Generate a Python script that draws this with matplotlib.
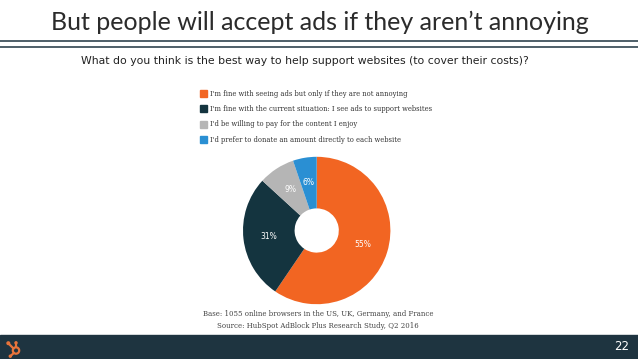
import numpy as np
import matplotlib.pyplot as plt
from matplotlib.patches import Rectangle, Circle

# slice shares as drawn, and the labels printed on them
answers = ["I'm fine with seeing ads but only if they are not annoying",
           "I'm fine with the current situation: I see ads to support websites",
           "I'd be willing to pay for the content I enjoy",
           "I'd prefer to donate an amount directly to each website"]
shares = [59.5, 27.3, 8.0, 5.2]
pct_labels = ['55%', '31%', '9%', '6%']
colors = ['#f26522', '#14343f', '#b5b5b5', '#2a8fd3']

W, H = 638, 359
fig = plt.figure(figsize=(W / 100, H / 100), dpi=100)
fig.patch.set_facecolor('white')

def fx(px):
    return px / W

def fy(py):
    return 1 - py / H

# title and rules
fig.text(fx(320), fy(22), "But people will accept ads if they aren\u2019t annoying",
         ha='center', va='center', fontsize=18, family='Lato', color='#2b2b2b')
for yy in (41, 46.5):
    fig.add_artist(plt.Line2D([0, 1], [fy(yy), fy(yy)], color='#1e3440', lw=1.1))

fig.text(fx(305), fy(61), "What do you think is the best way to help support websites (to cover their costs)?",
         ha='center', va='center', fontsize=7.8, family='DejaVu Sans', color='#222222')

# legend
for i, (lab, c) in enumerate(zip(answers, colors)):
    y = 93.5 + i * 15.5
    fig.add_artist(Rectangle((fx(200), fy(y + 3.5)), 7 / W, 7 / H, color=c,
                             transform=fig.transFigure))
    fig.text(fx(210), fy(y), lab, ha='left', va='center', fontsize=4.9,
             family='DejaVu Serif', color='#333333')

# donut
cx, cy, r = 316.7, 230.5, 73.7
ax = fig.add_axes([fx(cx - r), fy(cy + r), 2 * r / W, 2 * r / H])
wedges, _ = ax.pie(shares, colors=colors, startangle=90, counterclock=False,
                   radius=1, wedgeprops=dict(width=0.7, linewidth=0))
ax.set_xlim(-1, 1)
ax.set_ylim(-1, 1)
ax.set_aspect('auto')
ax.axis('off')
for w, t in zip(wedges, pct_labels):
    ang = np.deg2rad((w.theta1 + w.theta2) / 2)
    ax.text(0.66 * np.cos(ang), 0.66 * np.sin(ang), t, ha='center', va='center',
            fontsize=5.5, color='white')

# notes under the chart
fig.text(fx(318), fy(314), "Base: 1055 online browsers in the US, UK, Germany, and France",
         ha='center', va='center', fontsize=5.0, family='DejaVu Serif', color='#444444')
fig.text(fx(318), fy(326), "Source: HubSpot AdBlock Plus Research Study, Q2 2016",
         ha='center', va='center', fontsize=5.0, family='DejaVu Serif', color='#444444')

# footer bar
fig.add_artist(Rectangle((0, 0), 1, fy(335), color='#1e3440', transform=fig.transFigure,
                         zorder=0.5))
fig.text(fx(622), fy(347), "22", ha='center', va='center', fontsize=8.5, color='white')

# sprocket logo
lg = fig.add_axes([fx(4), fy(358), 20 / W, 20 / H])
lg.set_zorder(3)
lg.patch.set_alpha(0)
lg.set_xlim(0, 20)
lg.set_ylim(20, 0)
lg.axis('off')
oc = '#e8743b'
lg.add_patch(Circle((12, 12.5), 3.2, fill=False, ec=oc, lw=1.6))
lg.plot([9.5, 4.5], [10.5, 5.5], color=oc, lw=1.6)
lg.plot([12, 12], [9.3, 5], color=oc, lw=1.6)
lg.plot([9.8, 6.5], [15, 18], color=oc, lw=1.6)
lg.add_patch(Circle((4.3, 5.2), 1.3, color=oc))
lg.add_patch(Circle((12, 4.8), 1.0, color=oc))
lg.add_patch(Circle((6.3, 18.2), 1.0, color=oc))

fig.savefig('out.png', dpi=100)
